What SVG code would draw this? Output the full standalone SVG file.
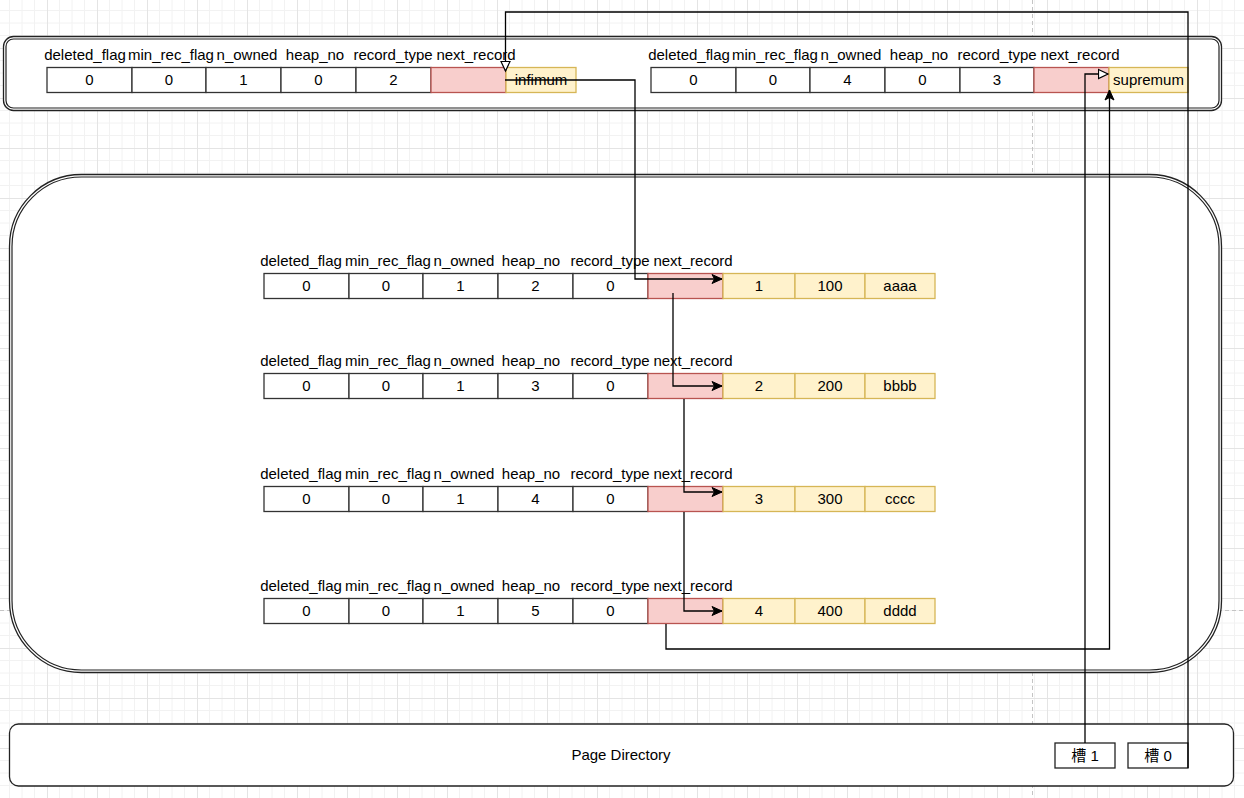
<svg xmlns="http://www.w3.org/2000/svg" width="1244" height="798" viewBox="0 0 1244 798">
<style>
text{font-family:"Liberation Sans","Noto Sans CJK SC",Arial,sans-serif;font-size:15px;fill:#000;text-anchor:middle}
.c{fill:#fff;stroke:#333;stroke-width:1.3}
.p{fill:#f8cecc;stroke:#b85450;stroke-width:1.3}
.y{fill:#fff2cc;stroke:#d6b656;stroke-width:1.3}
.box{fill:#fff;stroke:#222;stroke-width:1.3}
.dbl{fill:none;stroke:#222;stroke-width:1.2}
.e{fill:none;stroke:#000;stroke-width:1.3}
.pb{fill:none;stroke:#c4c4c4;stroke-width:1;stroke-dasharray:4 3}
</style>
<defs>
<pattern id="grid" patternUnits="userSpaceOnUse" x="47" y="48" width="50" height="50">
<path d="M12.5,0V50M25,0V50M37.5,0V50M0,12.5H50M0,25H50M0,37.5H50" fill="none" stroke="#f2f2f2" stroke-width="1"/>
<path d="M0.5,0V50M0,0.5H50" fill="none" stroke="#e4e4e4" stroke-width="1"/>
</pattern>
<marker id="af" markerUnits="userSpaceOnUse" markerWidth="12" markerHeight="12" refX="11" refY="6" orient="auto">
<path d="M1,1.5 L11,6 L1,10.5 L3.5,6 z" fill="#000" stroke="#000" stroke-width="1"/>
</marker>
<marker id="ao" markerUnits="userSpaceOnUse" markerWidth="12" markerHeight="12" refX="10.5" refY="6" orient="auto">
<path d="M1,1.5 L10.5,6 L1,10.5 z" fill="#fff" stroke="#000" stroke-width="1.2"/>
</marker>
</defs>
<rect width="1244" height="798" fill="#fff"/>
<rect width="1244" height="798" fill="url(#grid)"/>
<g id="page-breaks">
<path class="pb" d="M1032.5,0V798"/>
<path class="pb" d="M0,610.5H1244"/>
</g>
<g id="infimum-supremum-container">
<rect class="box" x="3.5" y="36.5" width="1218" height="74" rx="10"/>
<rect class="dbl" x="6" y="39" width="1213" height="69" rx="7.5"/>
</g>
<g id="user-records-container">
<rect class="box" x="9.5" y="174.5" width="1212" height="498" rx="72"/>
<rect class="dbl" x="12" y="177" width="1207" height="493" rx="69.5"/>
</g>
<g id="infimum-record">
<text x="85" y="60">deleted_flag</text><text x="171" y="60">min_rec_flag</text><text x="247" y="60">n_owned</text><text x="315" y="60">heap_no</text><text x="393" y="60">record_type</text><text x="476" y="60">next_record</text>
<rect class="c" x="47" y="67.5" width="85" height="25"/><rect class="c" x="132" y="67.5" width="74" height="25"/><rect class="c" x="206" y="67.5" width="75" height="25"/><rect class="c" x="281" y="67.5" width="75" height="25"/><rect class="c" x="356" y="67.5" width="75" height="25"/>
<rect class="p" x="431" y="67.5" width="75" height="25"/><rect class="y" x="506" y="67.5" width="70" height="25"/>
<text x="89.5" y="85">0</text><text x="169" y="85">0</text><text x="243.5" y="85">1</text><text x="318.5" y="85">0</text><text x="393.5" y="85">2</text><text x="541" y="85">infimum</text>
</g>
<g id="supremum-record">
<text x="689" y="60">deleted_flag</text><text x="775" y="60">min_rec_flag</text><text x="851" y="60">n_owned</text><text x="919" y="60">heap_no</text><text x="997" y="60">record_type</text><text x="1080" y="60">next_record</text>
<rect class="c" x="651" y="67.5" width="85" height="25"/><rect class="c" x="736" y="67.5" width="74" height="25"/><rect class="c" x="810" y="67.5" width="75" height="25"/><rect class="c" x="885" y="67.5" width="75" height="25"/><rect class="c" x="960" y="67.5" width="74" height="25"/>
<rect class="p" x="1034" y="67.5" width="75" height="25"/><rect class="y" x="1109" y="67.5" width="79" height="25"/>
<text x="693.5" y="85">0</text><text x="773" y="85">0</text><text x="847.5" y="85">4</text><text x="922.5" y="85">0</text><text x="997" y="85">3</text><text x="1148.5" y="85">supremum</text>
</g>
<g id="record-1">
<text x="301" y="266">deleted_flag</text><text x="388" y="266">min_rec_flag</text><text x="464" y="266">n_owned</text><text x="531" y="266">heap_no</text><text x="610" y="266">record_type</text><text x="693" y="266">next_record</text>
<rect class="c" x="264" y="273.5" width="85" height="25"/><rect class="c" x="349" y="273.5" width="74" height="25"/><rect class="c" x="423" y="273.5" width="75" height="25"/><rect class="c" x="498" y="273.5" width="75" height="25"/><rect class="c" x="573" y="273.5" width="75" height="25"/>
<rect class="p" x="648" y="273.5" width="75" height="25"/><rect class="y" x="723" y="273.5" width="72" height="25"/><rect class="y" x="795" y="273.5" width="70" height="25"/><rect class="y" x="865" y="273.5" width="70" height="25"/>
<text x="306.5" y="291">0</text><text x="386" y="291">0</text><text x="460.5" y="291">1</text><text x="535.5" y="291">2</text><text x="610.5" y="291">0</text><text x="759" y="291">1</text><text x="830" y="291">100</text><text x="900" y="291">aaaa</text>
</g>
<g id="record-2">
<text x="301" y="366">deleted_flag</text><text x="388" y="366">min_rec_flag</text><text x="464" y="366">n_owned</text><text x="531" y="366">heap_no</text><text x="610" y="366">record_type</text><text x="693" y="366">next_record</text>
<rect class="c" x="264" y="373.5" width="85" height="25"/><rect class="c" x="349" y="373.5" width="74" height="25"/><rect class="c" x="423" y="373.5" width="75" height="25"/><rect class="c" x="498" y="373.5" width="75" height="25"/><rect class="c" x="573" y="373.5" width="75" height="25"/>
<rect class="p" x="648" y="373.5" width="75" height="25"/><rect class="y" x="723" y="373.5" width="72" height="25"/><rect class="y" x="795" y="373.5" width="70" height="25"/><rect class="y" x="865" y="373.5" width="70" height="25"/>
<text x="306.5" y="391">0</text><text x="386" y="391">0</text><text x="460.5" y="391">1</text><text x="535.5" y="391">3</text><text x="610.5" y="391">0</text><text x="759" y="391">2</text><text x="830" y="391">200</text><text x="900" y="391">bbbb</text>
</g>
<g id="record-3">
<text x="301" y="479">deleted_flag</text><text x="388" y="479">min_rec_flag</text><text x="464" y="479">n_owned</text><text x="531" y="479">heap_no</text><text x="610" y="479">record_type</text><text x="693" y="479">next_record</text>
<rect class="c" x="264" y="486.5" width="85" height="25"/><rect class="c" x="349" y="486.5" width="74" height="25"/><rect class="c" x="423" y="486.5" width="75" height="25"/><rect class="c" x="498" y="486.5" width="75" height="25"/><rect class="c" x="573" y="486.5" width="75" height="25"/>
<rect class="p" x="648" y="486.5" width="75" height="25"/><rect class="y" x="723" y="486.5" width="72" height="25"/><rect class="y" x="795" y="486.5" width="70" height="25"/><rect class="y" x="865" y="486.5" width="70" height="25"/>
<text x="306.5" y="504">0</text><text x="386" y="504">0</text><text x="460.5" y="504">1</text><text x="535.5" y="504">4</text><text x="610.5" y="504">0</text><text x="759" y="504">3</text><text x="830" y="504">300</text><text x="900" y="504">cccc</text>
</g>
<g id="record-4">
<text x="301" y="591">deleted_flag</text><text x="388" y="591">min_rec_flag</text><text x="464" y="591">n_owned</text><text x="531" y="591">heap_no</text><text x="610" y="591">record_type</text><text x="693" y="591">next_record</text>
<rect class="c" x="264" y="598.5" width="85" height="25"/><rect class="c" x="349" y="598.5" width="74" height="25"/><rect class="c" x="423" y="598.5" width="75" height="25"/><rect class="c" x="498" y="598.5" width="75" height="25"/><rect class="c" x="573" y="598.5" width="75" height="25"/>
<rect class="p" x="648" y="598.5" width="75" height="25"/><rect class="y" x="723" y="598.5" width="72" height="25"/><rect class="y" x="795" y="598.5" width="70" height="25"/><rect class="y" x="865" y="598.5" width="70" height="25"/>
<text x="306.5" y="616">0</text><text x="386" y="616">0</text><text x="460.5" y="616">1</text><text x="535.5" y="616">5</text><text x="610.5" y="616">0</text><text x="759" y="616">4</text><text x="830" y="616">400</text><text x="900" y="616">dddd</text>
</g>
<g id="page-directory">
<rect class="box" x="9.5" y="724" width="1224" height="62" rx="9"/>
<text x="621" y="760">Page Directory</text>
</g>
<g id="slot-1">
<rect class="box" x="1055" y="743" width="60" height="25"/>
<text x="1085" y="761">槽 1</text>
</g>
<g id="slot-0">
<rect class="box" x="1128" y="743" width="60" height="25"/>
<text x="1158" y="761">槽 0</text>
</g>
<g id="connectors">
<path class="e" d="M505,80H635V279H722" marker-end="url(#af)"/>
<path class="e" d="M673,293V386H722" marker-end="url(#af)"/>
<path class="e" d="M684,399V492H722" marker-end="url(#af)"/>
<path class="e" d="M684,512V611H722" marker-end="url(#af)"/>
<path class="e" d="M666,624V649H1109.5V90" marker-end="url(#af)"/>
<path class="e" d="M1085,743V74H1108" marker-end="url(#ao)"/>
<path class="e" d="M1188,768V12H505.5V71" marker-end="url(#ao)"/>
</g>
</svg>
